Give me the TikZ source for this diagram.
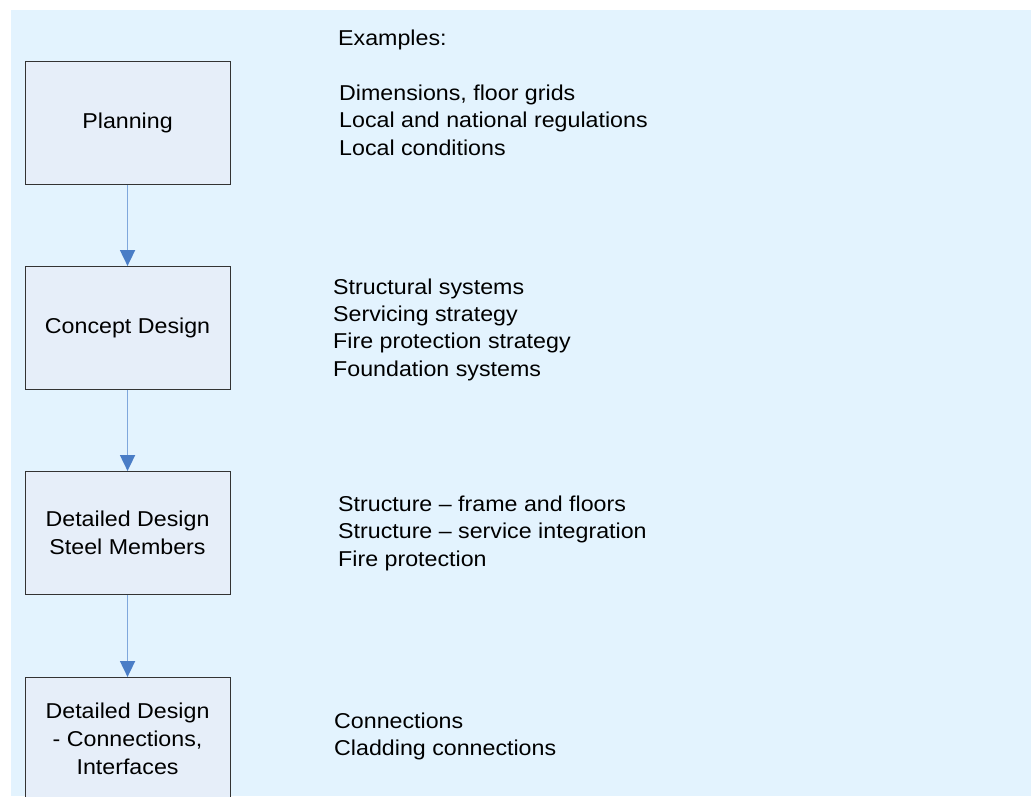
\documentclass[tikz,border=0pt]{standalone}
\usepackage{fontspec}
\setmainfont{Liberation Sans}[FakeStretch=1.08]
\usetikzlibrary{arrows.meta}
\definecolor{bgblue}{HTML}{E3F3FE}
\definecolor{boxfill}{HTML}{E6EEF9}
\definecolor{boxline}{HTML}{333333}
\definecolor{arrowline}{HTML}{7FA7DC}
\definecolor{arrowhead}{HTML}{4A7DC6}
\tikzset{
  stage/.style={draw=boxline, line width=1.1pt, fill=boxfill, minimum width=205pt, minimum height=123pt,
    inner sep=0pt, align=center, font=\fontsize{21.5}{28}\selectfont, anchor=north west},
  item/.style={anchor=base west, inner sep=0pt, font=\fontsize{21.5}{27.5}\selectfont},
  flow/.style={draw=arrowline, line width=1.8pt, -{Triangle[width=15pt,length=16pt,color=arrowhead]}, shorten >=0pt}
}
\begin{document}
\begin{tikzpicture}[x=1pt,y=-1pt]
\useasboundingbox (0,0) rectangle (1031,796);
\fill[bgblue] (11,10) rectangle (1031,796);
\begin{scope}
\clip (0,0) rectangle (1031,796);
\node[stage] (plan) at (24.5,61) {Planning};
\node[stage] (concept) at (24.5,266) {Concept Design};
\node[stage] (steel) at (24.5,471) {Detailed Design\\Steel Members};
\node[stage] (conn) at (24.5,677) {Detailed Design\\- Connections,\\Interfaces};
\end{scope}
\draw[flow] (plan.south) -- (concept.north);
\draw[flow] (concept.south) -- (steel.north);
\draw[flow] (steel.south) -- (conn.north);

\node[item] (ex) at (338,45) {Examples:};
\node[item] (p1) at (339,100) {Dimensions, floor grids};
\node[item] (p2) at (339,127.5) {Local and national regulations};
\node[item] (p3) at (339,155) {Local conditions};

\node[item] (c1) at (333,294) {Structural systems};
\node[item] (c2) at (333,321) {Servicing strategy};
\node[item] (c3) at (333,348.5) {Fire protection strategy};
\node[item] (c4) at (333,376) {Foundation systems};

\node[item] (s1) at (338,511) {Structure -- frame and floors};
\node[item] (s2) at (338,538.5) {Structure -- service integration};
\node[item] (s3) at (338,566) {Fire protection};

\node[item] (d1) at (334,728) {Connections};
\node[item] (d2) at (334,755.5) {Cladding connections};
\end{tikzpicture}
\end{document}
